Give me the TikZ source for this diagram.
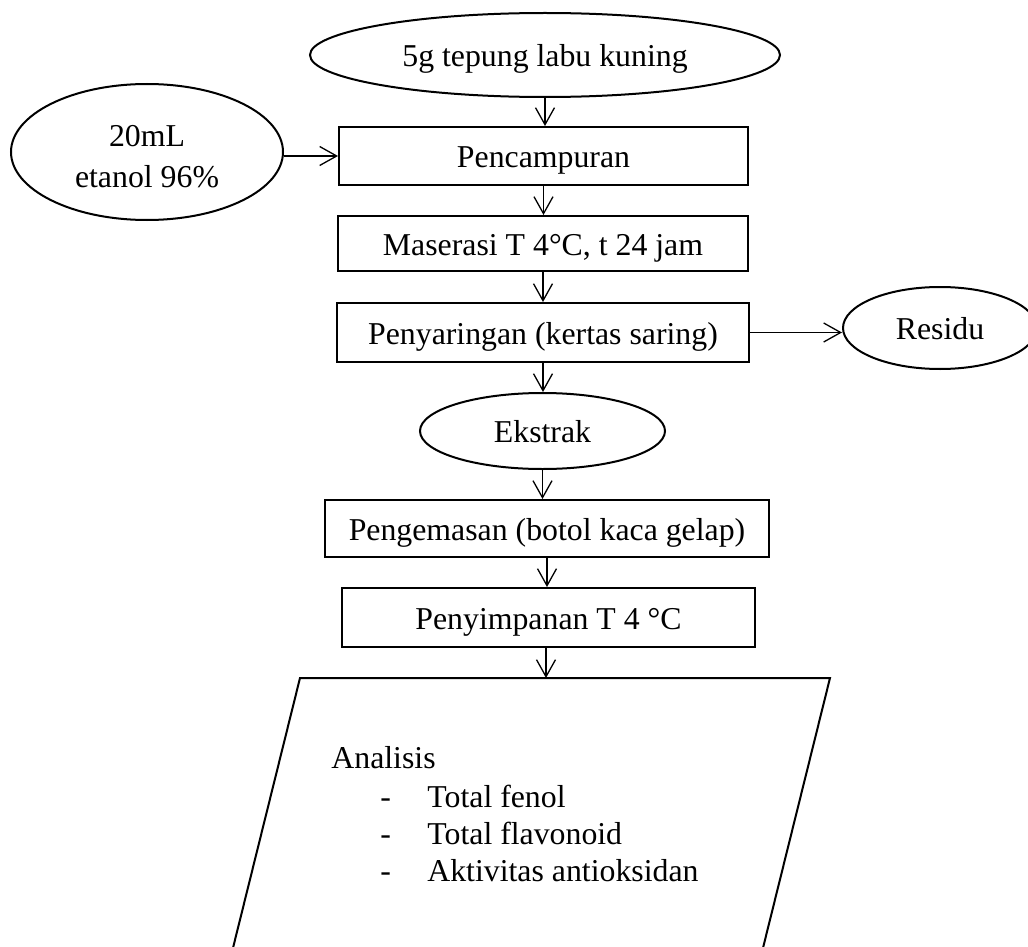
\documentclass[tikz,border=0pt]{standalone}
\usepackage{fontspec}
\setmainfont{Liberation Serif}
\usetikzlibrary{arrows.meta,shapes.geometric}
\begin{document}
\begin{tikzpicture}[x=0.5pt,y=-0.5pt,
  every node/.style={font=\fontsize{15.9pt}{18.85pt}\selectfont, inner sep=0pt},
  box/.style={draw, line width=1pt, rectangle, text height=11.9pt, text depth=0pt},
  oval/.style={draw, line width=1pt, ellipse, text height=11.9pt, text depth=0pt},
  arr/.style={line width=0.65pt, -{Straight Barb[length=8.5pt,width=9.5pt]}},
  item/.style={anchor=base west}]
\useasboundingbox (0,0) rectangle (1028,947);

\node[oval, minimum width=235pt, minimum height=42pt] (top) at (545,55) {5g tepung labu kuning};
\node[draw, line width=1pt, ellipse, minimum width=136pt, minimum height=68pt, align=center,
      text height=35.25pt, text depth=0pt,
      font=\fontsize{15.9pt}{20.5pt}\selectfont] (eta) at (147,152) {20mL\\etanol 96\%};
\node[box, minimum width=204.5pt, minimum height=29pt] (pen) at (543.5,156) {Pencampuran};
\node[box, minimum width=205pt, minimum height=27.5pt] (mas) at (543,243.5) {Maserasi T 4°C, t 24 jam};
\node[box, minimum width=206pt, minimum height=29.5pt] (pys) at (543,332.5) {Penyaringan (kertas saring)};
\node[oval, minimum width=97pt, minimum height=41pt] (res) at (940,328) {Residu};
\node[oval, minimum width=122.5pt, minimum height=38pt] (eks) at (542.5,431) {Ekstrak};
\node[box, minimum width=222pt, minimum height=28.5pt] (pgm) at (547,528.5) {Pengemasan (botol kaca gelap)};
\node[box, minimum width=206.5pt, minimum height=29.5pt] (pny) at (548.5,617.5) {Penyimpanan T 4 °C};

% parallelogram (output)
\coordinate (ptop) at (546,678);
\coordinate (pTL) at (300,678);
\coordinate (pTR) at (830,678);
\coordinate (pBR) at (760,960);
\coordinate (pBL) at (230,960);
\draw[line width=1pt, line join=miter] (pBL) -- (pTL) -- (pTR) -- (pBR);

\node[item] (an0) at (331,768) {Analisis};
\node[item] (an1) at (380,807) {\makebox[23.5pt][l]{-}Total fenol};
\node[item] (an2) at (380,844) {\makebox[23.5pt][l]{-}Total flavonoid};
\node[item] (an3) at (380,881) {\makebox[23.5pt][l]{-}Aktivitas antioksidan};

% connectors
\draw[arr] (top.south) -- (top.south |- pen.north);
\draw[arr] (eta.east |- pen.west) -- (pen.west);
\draw[arr] (pen.south) -- (pen.south |- mas.north);
\draw[arr] (mas.south) -- (mas.south |- pys.north);
\draw[arr] (pys.east) -- (pys.east -| res.west);
\draw[arr] (pys.south) -- (pys.south |- eks.north);
\draw[arr] (eks.south) -- (eks.south |- pgm.north);
\draw[arr] (pgm.south) -- (pgm.south |- pny.north);
\draw[arr] (pny.south -| ptop) -- (ptop);
\end{tikzpicture}
\end{document}
